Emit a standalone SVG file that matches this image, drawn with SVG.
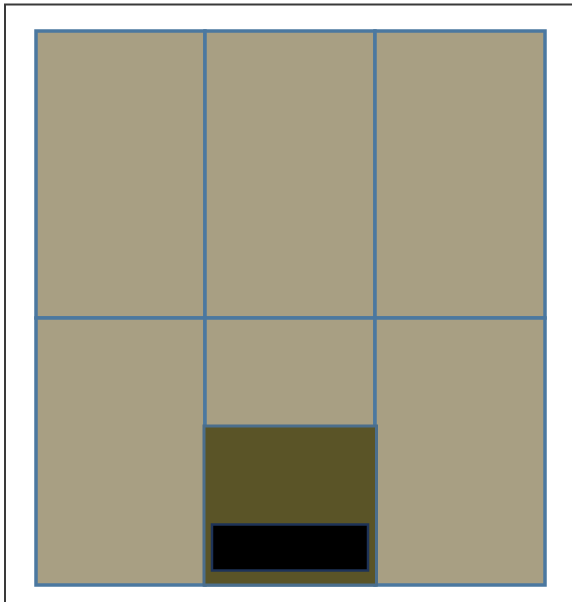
<svg xmlns="http://www.w3.org/2000/svg" width="572" height="602" viewBox="0 0 572 602">
<style>
.cell{fill:#A89F83;stroke:#4B78A0;stroke-width:3.5}
.frame{fill:none;stroke:#3a3a3a;stroke-width:2}
</style>
<rect width="572" height="602" fill="#fff"/>
<path class="frame" d="M5 602 V4.5 H572"/>
<g id="grid">
<rect id="cell-1" class="cell" x="36" y="31" width="169" height="287"/>
<rect id="cell-2" class="cell" x="205" y="31" width="170" height="287"/>
<rect id="cell-3" class="cell" x="375" y="31" width="170" height="287"/>
<rect id="cell-4" class="cell" x="36" y="318" width="169" height="267"/>
<rect id="cell-5" class="cell" x="205" y="318" width="170" height="267"/>
<rect id="cell-6" class="cell" x="375" y="318" width="170" height="267"/>
</g>
<g id="dark-box">
<rect x="204" y="426" width="172.5" height="159" fill="#5A5427" stroke="#4B6E8C" stroke-width="3"/>
</g>
<g id="black-box">
<rect x="212" y="524.5" width="156" height="46" fill="#000" stroke="#1E3358" stroke-width="2.5"/>
</g>
</svg>
